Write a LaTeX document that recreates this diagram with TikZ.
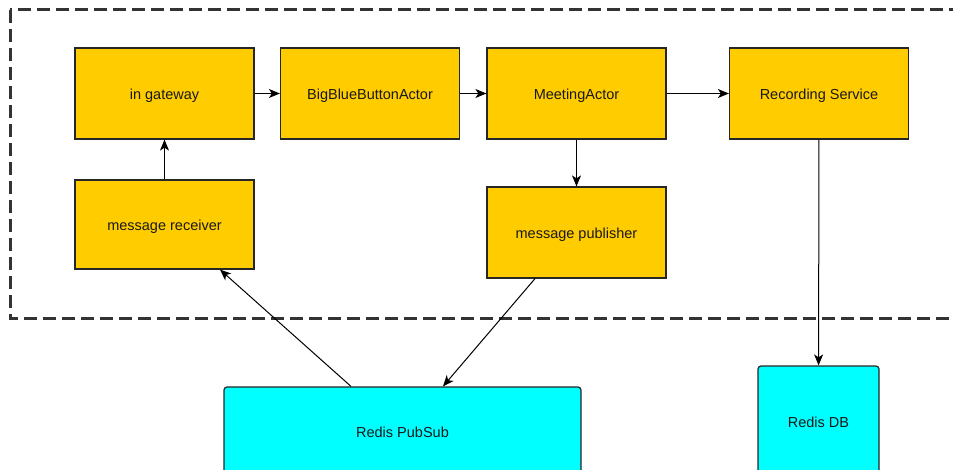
\documentclass[tikz,border=0pt]{standalone}
\usepackage{fontspec}
\setmainfont{Liberation Sans}
\usetikzlibrary{arrows.meta}
\definecolor{actoryellow}{HTML}{FFCC00}
\definecolor{storecyan}{HTML}{00FFFF}

\begin{document}
\begin{tikzpicture}[x=1pt, y=-1pt,
  >={Stealth[length=11pt, width=9pt, inset=3pt]},
  actor/.style={draw=black!85, line width=1.2pt, fill=actoryellow,
    minimum width=179pt, minimum height=91pt, inner sep=0pt,
    text height=11.5pt, text depth=0pt,
    text=black!90, font=\fontsize{14.5}{17}\selectfont},
  store/.style={actor, fill=storecyan, rounded corners=3pt}]
\clip (0,0) rectangle (953,470);
\draw[line width=3pt, draw=black!80, dash pattern=on 13pt off 6pt] (10,10) rectangle (975,319);

\node[actor] (gateway) at (164.5, 93.5) {in gateway};
\node[actor] (bbb) at (370, 93.5) {BigBlueButtonActor};
\node[actor] (meeting) at (576.5, 93.5) {MeetingActor};
\node[actor] (recording) at (819, 93.5) {Recording Service};
\node[actor, minimum height=89pt] (receiver) at (164.5, 224.5) {message receiver};
\node[actor] (publisher) at (576.5, 232.5) {message publisher};
\node[store, minimum width=357pt, minimum height=90pt] (pubsub) at (402.5, 432) {Redis PubSub};
\node[store, minimum width=121pt, minimum height=112pt] (redisdb) at (818.5, 422) {Redis DB};

\draw[->, line width=1pt] (gateway) -- (bbb);
\draw[->, line width=1pt] (bbb) -- (meeting);
\draw[->, line width=1pt] (meeting) -- (recording);
\draw[->, line width=1pt] (receiver) -- (gateway);
\draw[->, line width=1pt] (meeting) -- (publisher);
\draw[->, line width=1pt] (recording) -- (redisdb);
\draw[->, line width=1pt] ([xshift=-51.5pt]pubsub.north) -- ([xshift=55.5pt]receiver.south);
\draw[->, line width=1pt] ([xshift=-41.5pt]publisher.south) -- ([xshift=40.5pt]pubsub.north);
\end{tikzpicture}
\end{document}
